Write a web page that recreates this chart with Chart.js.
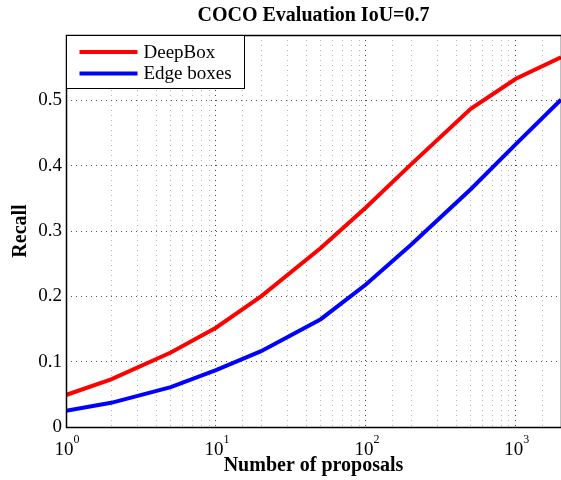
<!DOCTYPE html>
<html>
<head>
<meta charset="utf-8">
<script src="https://cdn.jsdelivr.net/npm/chart.js@4.4.0/dist/chart.umd.min.js"></script>
<style>
  html, body { margin: 0; padding: 0; background: #fff; }
</style>
</head>
<body>
<canvas id="recallChart" width="561" height="480"></canvas>
<script>
// values
const chartTitle = "COCO Evaluation IoU=0.7";
const numProposals = [1, 2, 5, 10, 20, 50, 100, 200, 500, 1000, 2000];
const deepBoxRecall = [0.049, 0.073, 0.114, 0.152, 0.200, 0.274, 0.336, 0.402, 0.487, 0.533, 0.566];
const edgeBoxesRecall = [0.025, 0.037, 0.061, 0.087, 0.116, 0.165, 0.218, 0.279, 0.364, 0.433, 0.501];
const seriesLabels = ["DeepBox", "Edge boxes"];
const seriesColors = ["#ff0000", "#0000ff"];
const xTickValues = [1, 10, 100, 1000];
const yTickLabels = ["0", "0.1", "0.2", "0.3", "0.4", "0.5"];

const serif = '"Liberation Serif", "Times New Roman", serif';

const toPoints = (ys) => numProposals.map((x, i) => ({ x: x, y: ys[i] }));

const isDecade = (v) => Math.abs(Math.log10(v) - Math.round(Math.log10(v))) < 1e-9;

const matlabLook = {
  id: "matlabLook",
  afterDraw(chart) {
    const ctx = chart.ctx;
    const area = chart.chartArea;
    const xs = chart.scales.x;
    ctx.save();
    ctx.setLineDash([]);

    // axes box
    ctx.strokeStyle = "#000";
    ctx.lineWidth = 1.5;
    ctx.strokeRect(area.left + 0.5, area.top + 0.5, area.right - area.left, area.bottom - area.top);

    // title
    ctx.fillStyle = "#000";
    ctx.font = "bold 20px " + serif;
    ctx.textAlign = "center";
    ctx.textBaseline = "alphabetic";
    ctx.fillText(chartTitle, (area.left + area.right) / 2, 21);

    // x tick labels 10^n
    ctx.textAlign = "left";
    xTickValues.forEach((v) => {
      const px = xs.getPixelForValue(v);
      const exp = String(Math.round(Math.log10(v)));
      ctx.font = "19px " + serif;
      const w1 = ctx.measureText("10").width;
      ctx.font = "12px " + serif;
      const w2 = ctx.measureText(exp).width;
      const x0 = px - (w1 + w2) / 2 + 1;
      ctx.font = "19px " + serif;
      ctx.fillText("10", x0, 455);
      ctx.font = "12px " + serif;
      ctx.fillText(exp, x0 + w1, 443);
    });

    // legend
    const lx = area.left + 0.5, ly = area.top + 0.5, lw = 178, lh = 53;
    ctx.fillStyle = "#fff";
    ctx.fillRect(lx, ly, lw, lh);
    ctx.strokeStyle = "#000";
    ctx.lineWidth = 1;
    ctx.strokeRect(lx, ly, lw, lh);
    chart.data.datasets.forEach((ds, i) => {
      const y = ly + 16.5 + i * 21.5;
      ctx.strokeStyle = ds.borderColor;
      ctx.lineWidth = 4;
      ctx.beginPath();
      ctx.moveTo(lx + 13, y);
      ctx.lineTo(lx + 71, y);
      ctx.stroke();
      ctx.fillStyle = "#000";
      ctx.font = "19px " + serif;
      ctx.textBaseline = "middle";
      ctx.fillText(ds.label, lx + 77, y + 1);
    });
    ctx.restore();
  }
};

new Chart(document.getElementById("recallChart"), {
  type: "line",
  data: {
    datasets: [
      {
        label: seriesLabels[0],
        data: toPoints(deepBoxRecall),
        borderColor: seriesColors[0],
        borderWidth: 4,
        pointRadius: 0,
        fill: false
      },
      {
        label: seriesLabels[1],
        data: toPoints(edgeBoxesRecall),
        borderColor: seriesColors[1],
        borderWidth: 4,
        pointRadius: 0,
        fill: false
      }
    ]
  },
  options: {
    responsive: false,
    animation: false,
    devicePixelRatio: 1,
    layout: { padding: { top: 35, right: 0, left: 0, bottom: 0 } },
    plugins: {
      legend: { display: false },
      title: { display: false },
      tooltip: { enabled: false }
    },
    scales: {
      x: {
        type: "logarithmic",
        min: 1,
        max: 2000,
        border: { display: false, dash: [1, 4] },
        grid: {
          drawTicks: false,
          color: (c) => (c.tick && isDecade(c.tick.value) ? "#444" : "#b5b5b5"),
          lineWidth: 1
        },
        ticks: { display: false, autoSkip: false },
        title: {
          display: true,
          text: "Number of proposals",
          color: "#000",
          font: { family: serif, size: 20, weight: "bold" },
          padding: { top: 0, bottom: 2 }
        },
        afterFit: (scale) => { scale.height = 53; }
      },
      y: {
        min: 0,
        max: 0.6,
        border: { display: false, dash: [1, 4] },
        grid: { drawTicks: false, color: "#555", lineWidth: 1 },
        ticks: {
          stepSize: 0.1,
          padding: 4,
          color: "#000",
          font: { family: serif, size: 19 },
          callback: (v, i) => (yTickLabels[i] !== undefined ? yTickLabels[i] : "")
        },
        title: {
          display: true,
          text: "Recall",
          color: "#000",
          font: { family: serif, size: 20, weight: "bold" },
          padding: { top: 9, bottom: 0 }
        },
        afterFit: (scale) => { scale.width = 66; }
      }
    }
  },
  plugins: [matlabLook]
});
</script>
</body>
</html>
